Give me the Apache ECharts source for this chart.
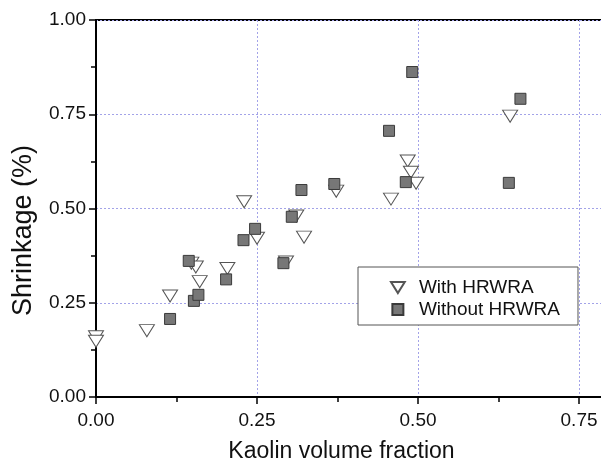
<!DOCTYPE html>
<html>
<head>
<meta charset="utf-8">
<script src="https://cdn.jsdelivr.net/npm/echarts@6/dist/echarts.min.js"></script>
<style>
  html, body { margin: 0; padding: 0; background: #fff; }
  #chart { width: 601px; height: 460px; }
</style>
</head>
<body>
<div id="chart"></div>
<script>
// ---- Data ----
var seriesNames = ['With HRWRA', 'Without HRWRA'];

var withX = [0, 0, 0.079, 0.115, 0.148, 0.155, 0.161, 0.204, 0.230, 0.250, 0.295, 0.311, 0.323, 0.373, 0.458, 0.484, 0.489, 0.497, 0.643];
var withY = [0.160, 0.148, 0.176, 0.268, 0.355, 0.345, 0.306, 0.341, 0.518, 0.421, 0.358, 0.480, 0.424, 0.546, 0.525, 0.626, 0.596, 0.567, 0.745];

var withoutX = [0.115, 0.144, 0.152, 0.159, 0.202, 0.229, 0.247, 0.291, 0.304, 0.319, 0.370, 0.455, 0.481, 0.491, 0.641, 0.659];
var withoutY = [0.207, 0.361, 0.255, 0.271, 0.312, 0.416, 0.446, 0.355, 0.478, 0.549, 0.565, 0.706, 0.570, 0.862, 0.568, 0.791];

var xTickValues = [0, 0.25, 0.5, 0.75];
var yTickValues = [0, 0.25, 0.5, 0.75, 1.0];

var xTitle = 'Kaolin volume fraction';
var yTitle = 'Shrinkage (%)';

// ---- Build ----
function pairs(xs, ys) {
  var out = [];
  for (var i = 0; i < xs.length; i++) out.push([xs[i], ys[i]]);
  return out;
}

var FONT = 'Arial, "Liberation Sans", sans-serif';
var gridLine = { show: true, lineStyle: { color: '#a3a3e8', type: [2, 2], width: 1 } };
var fmt = function (v) { return Number(v).toFixed(2); };

var chart = echarts.init(document.getElementById('chart'), null, { renderer: 'canvas' });
chart.setOption({
  animation: false,
  backgroundColor: '#ffffff',
  grid: { left: 96, top: 20, width: 541, height: 377, containLabel: false, outerBoundsMode: 'none',
          show: true, borderColor: '#000', borderWidth: 2, backgroundColor: 'transparent' },
  xAxis: {
    type: 'value',
    position: 'bottom',
    min: xTickValues[0],
    max: 0.84,
    interval: 0.25,
    axisLine: { show: true, onZero: false, lineStyle: { color: '#000', width: 2 } },
    axisTick: { show: true, inside: false, length: 7, lineStyle: { color: '#000', width: 1.5 } },
    minorTick: { show: true, splitNumber: 2, length: 5, lineStyle: { color: '#000', width: 1.5 } },
    axisLabel: { show: true, margin: 14, fontSize: 19, color: '#111', fontFamily: FONT, formatter: fmt, showMaxLabel: false },
    splitLine: gridLine,
    name: xTitle,
    nameLocation: 'middle',
    nameGap: 43,
    nameTextStyle: { fontSize: 23, color: '#111', fontFamily: FONT, padding: [0, 50, 0, 0] }
  },
  yAxis: {
    type: 'value',
    min: yTickValues[0],
    max: yTickValues[yTickValues.length - 1],
    interval: 0.25,
    axisLine: { show: true, onZero: false, lineStyle: { color: '#000', width: 2 } },
    axisTick: { show: true, inside: false, length: 7, lineStyle: { color: '#000', width: 1.5 } },
    minorTick: { show: true, splitNumber: 2, length: 5, lineStyle: { color: '#000', width: 1.5 } },
    axisLabel: { show: true, margin: 10, fontSize: 19, color: '#111', fontFamily: FONT, formatter: fmt },
    splitLine: gridLine,
    name: yTitle,
    nameLocation: 'middle',
    nameGap: 59,
    nameTextStyle: { fontSize: 27, color: '#111', fontFamily: FONT, padding: [0, 44, 0, 0] }
  },
  legend: {
    orient: 'vertical',
    left: 358,
    top: 267,
    padding: [11, 18, 6, 32],
    itemGap: 3,
    itemWidth: 32,
    itemHeight: 11,
    borderColor: '#555',
    borderWidth: 1,
    backgroundColor: '#ffffff',
    selectedMode: false,
    textStyle: { fontSize: 19, color: '#111', fontFamily: FONT },
    data: seriesNames
  },
  series: [{
    name: seriesNames[0],
    type: 'scatter',
    symbol: 'path://M0,0L15,0L7.5,12Z',
    symbolSize: [15, 12],
    itemStyle: { color: '#ffffff', borderColor: '#555555', borderWidth: 1, opacity: 1 },
    z: 2,
    data: pairs(withX, withY)
  }, {
    name: seriesNames[1],
    type: 'scatter',
    symbol: 'path://M0,0L10,0L10,10L0,10Z',
    symbolSize: 11,
    itemStyle: { color: '#777777', borderColor: '#3a3a3a', borderWidth: 1, opacity: 1 },
    z: 3,
    data: pairs(withoutX, withoutY)
  }]
});
</script>
</body>
</html>
